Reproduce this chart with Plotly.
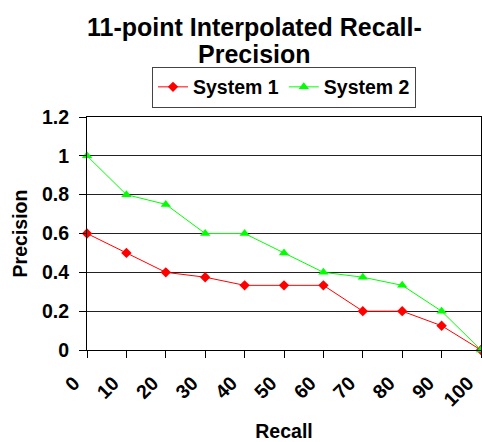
import plotly.graph_objects as go

recall = [0, 10, 20, 30, 40, 50, 60, 70, 80, 90, 100]
system1 = [0.6, 0.5, 0.4, 0.375, 0.333, 0.333, 0.333, 0.2, 0.2, 0.125, 0.0]
system2 = [1.0, 0.8, 0.75, 0.6, 0.6, 0.5, 0.4, 0.375, 0.333, 0.2, 0.0]
y_ticks = [0, 0.2, 0.4, 0.6, 0.8, 1, 1.2]
y_tick_labels = ["0", "0.2", "0.4", "0.6", "0.8", "1", "1.2"]
title_lines = ["11-point Interpolated Recall-", "Precision"]

FONT = "Liberation Sans, Arial, sans-serif"
TXT = dict(family=FONT, size=19.5, weight="bold", color="black")
TITLE_FONT = dict(family=FONT, size=25, weight="bold", color="black")

fig = go.Figure()
fig.add_trace(go.Scatter(
    x=recall, y=system1, name="System 1", mode="lines+markers",
    line=dict(color="#FF0000", width=1),
    marker=dict(symbol="diamond", size=8, color="#FF0000"),
    cliponaxis=False,
))
fig.add_trace(go.Scatter(
    x=recall, y=system2, name="System 2", mode="lines+markers",
    line=dict(color="#00FF00", width=1),
    marker=dict(symbol="triangle-up", size=9, color="#00FF00"),
    cliponaxis=False,
))

# chart title: one annotation per line for a tighter line spacing
for line, ypos in zip(title_lines, [1.386, 1.27]):
    fig.add_annotation(
        text=line, xref="paper", yref="paper", x=0.426, y=ypos,
        xanchor="center", yanchor="middle", showarrow=False, font=TITLE_FONT,
    )

fig.update_layout(
    width=482, height=442,
    margin=dict(l=87, r=1, t=117, b=92, autoexpand=False),
    paper_bgcolor="white", plot_bgcolor="white",
    font=TXT,
    showlegend=True,
    legend=dict(
        orientation="h", x=0.5, xanchor="center", y=1.04, yanchor="bottom",
        bordercolor="#444", borderwidth=1, bgcolor="white",
        font=TXT, itemwidth=30, tracegroupgap=0,
    ),
    xaxis=dict(
        range=[0, 100], tickmode="array", tickvals=recall,
        ticktext=[str(v) for v in recall], automargin=False,
        tickangle=-45, ticks="outside", ticklen=7, tickcolor="black",
        ticklabeloverflow="allow", ticklabelstandoff=6, ticklabelshift=-13,
        showline=True, linecolor="black", linewidth=1, mirror=True,
        showgrid=False, zeroline=False, tickfont=TXT,
        title=dict(text="Recall", font=TXT, standoff=18),
    ),
    yaxis=dict(
        range=[0, 1.2], tickmode="array", tickvals=y_ticks, ticktext=y_tick_labels,
        automargin=False,
        ticks="outside", ticklen=7, tickcolor="black", ticklabelstandoff=6,
        showline=True, linecolor="black", linewidth=1, mirror=True,
        showgrid=True, gridcolor="#222", gridwidth=1, zeroline=False, tickfont=TXT,
        title=dict(text="Precision", font=TXT, standoff=9),
    ),
)

fig.write_html("out.html")
